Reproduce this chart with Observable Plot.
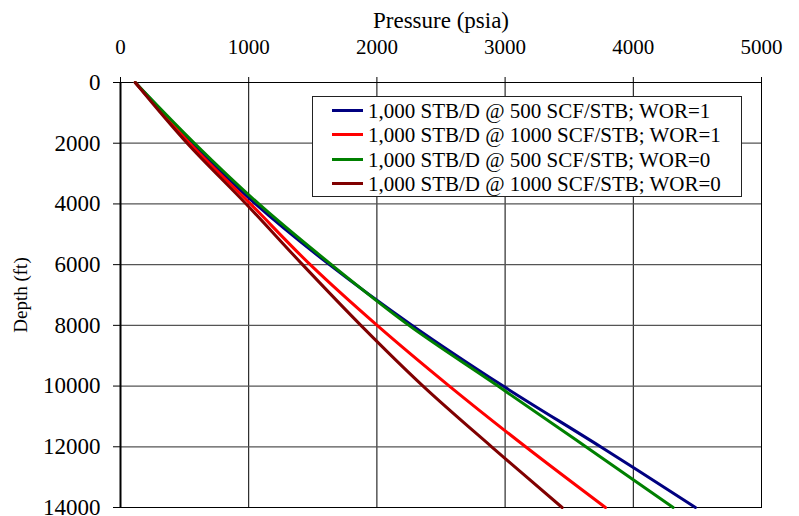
<!DOCTYPE html>
<html><head><meta charset="utf-8">
<script src="https://cdn.jsdelivr.net/npm/d3@7"></script>
<script src="https://cdn.jsdelivr.net/npm/@observablehq/plot@0.6"></script>
<style>
body{margin:0;background:#fff;}
#wrap{position:relative;width:799px;height:516px;font-family:"Liberation Serif","Times New Roman",serif;overflow:hidden;}
#legend{position:absolute;left:312px;top:96px;width:430px;height:101px;border:1px solid #222;background:#fff;box-sizing:border-box;font-size:21px;color:#000;}
.row{position:absolute;left:0;height:24px;line-height:24px;white-space:nowrap;}
.sw{position:absolute;left:19px;top:10px;width:31px;height:3px;}
.tx{position:absolute;left:55px;top:0;}
</style></head>
<body><div id="wrap"></div>
<script>
const depths = [0, 2000, 4000, 6000, 8000, 10000, 12000, 14000];
const blueP    = [115, 560, 1053, 1630, 2275, 2985, 3745, 4485];
const redP     = [115, 540, 1014, 1480, 2002, 2565, 3160, 3783];
const greenP   = [115, 577, 1079, 1645, 2250, 2945, 3630, 4311];
const darkredP = [115, 520,  980, 1420, 1875, 2360, 2895, 3445];
const seriesNames = [
  "1,000 STB/D @ 500 SCF/STB; WOR=1",
  "1,000 STB/D @ 1000 SCF/STB; WOR=1",
  "1,000 STB/D @ 500 SCF/STB; WOR=0",
  "1,000 STB/D @ 1000 SCF/STB; WOR=0"
];
const seriesColors = ["#000080", "#ff0000", "#008000", "#800000"];
const xTicks = [0, 1000, 2000, 3000, 4000, 5000];
const yTicks = [0, 2000, 4000, 6000, 8000, 10000, 12000, 14000];
const xLabel = "Pressure (psia)";
const yLabel = "Depth (ft)";

const seriesValues = [blueP, redP, greenP, darkredP];
const data = [];
seriesValues.forEach((vals, i) => vals.forEach((p, j) => data.push({s: seriesNames[i], p, d: depths[j]})));

const chart = Plot.plot({
  width: 799, height: 516,
  marginLeft: 120, marginRight: 38, marginTop: 82, marginBottom: 9,
  style: {fontFamily: "'Liberation Serif', 'Times New Roman', serif", fontSize: "21px", color: "#000", background: "transparent", overflow: "visible"},
  x: {domain: [0, 5000]},
  y: {domain: [0, 14000], reverse: true},
  color: {domain: seriesNames, range: seriesColors},
  marks: [
    Plot.gridX(xTicks, {stroke: "#000", strokeOpacity: 1, strokeWidth: 1}),
    Plot.gridY(yTicks, {stroke: "#555", strokeOpacity: 1, strokeWidth: 1.2}),
    Plot.frame({stroke: "#000", strokeWidth: 1}),
    Plot.ruleX([0], {stroke: "#000", strokeWidth: 2}),
    Plot.line(data, {x: "p", y: "d", z: "s", stroke: "s", strokeWidth: 3, curve: "catmull-rom"}),
    Plot.axisX(xTicks, {anchor: "top", tickSize: 6, tickPadding: 23, label: null, tickFormat: d => String(d), fontSize: 21}),
    Plot.axisY(yTicks, {anchor: "left", tickSize: 7, tickPadding: 13, label: null, tickFormat: d => String(d), fontSize: 23}),
    Plot.text([xLabel], {frameAnchor: "top", dy: -71, fontSize: 23, fill: "#000"}),
    Plot.text([yLabel], {frameAnchor: "left", dx: -100, rotate: -90, textAnchor: "middle", fontSize: 19, fill: "#000"})
  ]
});
const wrap = document.getElementById("wrap");
wrap.appendChild(chart);

const leg = document.createElement("div");
leg.id = "legend";
seriesNames.forEach((n, i) => {
  const r = document.createElement("div");
  r.className = "row";
  r.style.top = (2 + i * 24.3) + "px";
  const sw = document.createElement("div");
  sw.className = "sw";
  sw.style.background = seriesColors[i];
  const t = document.createElement("span");
  t.className = "tx";
  t.textContent = n;
  r.appendChild(sw); r.appendChild(t);
  leg.appendChild(r);
});
wrap.appendChild(leg);
</script>
</body></html>
